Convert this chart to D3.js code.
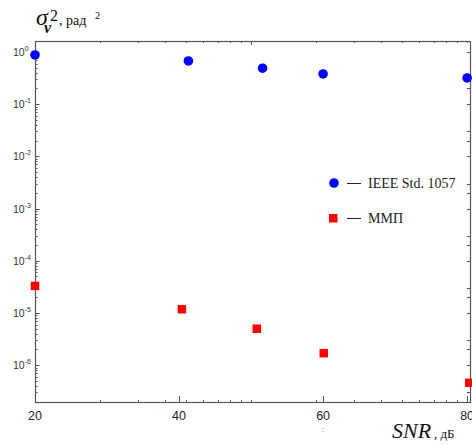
<!DOCTYPE html>
<html>
<head>
<meta charset="utf-8">
<script src="https://cdn.jsdelivr.net/npm/d3@7"></script>
<style>
  body { margin: 0; background: #fff; }
  svg { display: block; }
</style>
</head>
<body>
<svg id="chart" width="472" height="445"></svg>
<script>
// data
var ieeeSnr = [20, 41.3, 51.6, 60, 80];
var ieeeVar = [0.877, 0.672, 0.488, 0.379, 0.318];
var mmpSnr = [20, 40.4, 50.8, 60.1, 80.3];
var mmpVar = [3.3e-5, 1.18e-5, 5.0e-6, 1.7e-6, 4.6e-7];
var xTicks = [20, 40, 60, 80];
var yDecades = [0, -1, -2, -3, -4, -5, -6];
var legendNames = ["IEEE Std. 1057", "ММП"];

var svg = d3.select("#chart");
var LEFT = 35, RIGHT = 470, TOP = 41, BOTTOM = 402;
var AXIS_COLOR = "#555";

var x = d3.scaleLinear().domain([20, 80.4]).range([LEFT, RIGHT]);
var y = d3.scaleLog().domain([Math.pow(10, 0.21), Math.pow(10, -6.705)]).range([TOP, BOTTOM]);
// the top and bottom frame carry log-style minor ticks (plot quirk)
var xLog = d3.scaleLog().domain([1, Math.pow(10, (RIGHT - LEFT) / 216)]).range([LEFT, RIGHT]);

var frame = svg.append("g");

// minor log ticks along y
var yMinor = [];
yDecades.concat([-7]).forEach(function(d){
    for (var k = 2; k <= 9; k++){
        var v = k * Math.pow(10, d);
        if (v < y.domain()[0] && v > y.domain()[1]) yMinor.push(v);
    }
});

frame.selectAll(".yminor").data(yMinor).enter().append("line")
    .attr("x1", LEFT).attr("x2", LEFT + 2.5)
    .attr("y1", function(d){ return Math.round(y(d)) + 0.5; })
    .attr("y2", function(d){ return Math.round(y(d)) + 0.5; })
    .attr("stroke", AXIS_COLOR).attr("stroke-width", 1);

frame.selectAll(".ymajor").data(yDecades).enter().append("line")
    .attr("x1", LEFT).attr("x2", LEFT + 4.5)
    .attr("y1", function(d){ return Math.round(y(Math.pow(10, d))) + 0.5; })
    .attr("y2", function(d){ return Math.round(y(Math.pow(10, d))) + 0.5; })
    .attr("stroke", AXIS_COLOR).attr("stroke-width", 1);

// right side ticks: decades plus 2 and 3 multiples
var yRight = [];
yDecades.concat([-7]).forEach(function(d){
    [1, 2, 3].forEach(function(k){
        var v = k * Math.pow(10, d);
        if (v < y.domain()[0] && v > y.domain()[1]) yRight.push(v);
    });
});
frame.selectAll(".yright").data(yRight).enter().append("line")
    .attr("x1", RIGHT - 3).attr("x2", RIGHT)
    .attr("y1", function(d){ return Math.round(y(d)) + 0.5; })
    .attr("y2", function(d){ return Math.round(y(d)) + 0.5; })
    .attr("stroke", AXIS_COLOR).attr("stroke-width", 1);

// log-style minor ticks on top and bottom
var xMinor = [];
[1, 10, 100].forEach(function(dec){
    for (var k = 1; k <= 9; k++){
        var v = k * dec;
        if (v > 1 && v < xLog.domain()[1]) xMinor.push(v);
    }
});
frame.selectAll(".xtopminor").data(xMinor).enter().append("line")
    .attr("x1", function(d){ return Math.round(xLog(d)) + 0.5; })
    .attr("x2", function(d){ return Math.round(xLog(d)) + 0.5; })
    .attr("y1", TOP).attr("y2", function(d){ return TOP + (d === 10 ? 4 : 2); })
    .attr("stroke", AXIS_COLOR).attr("stroke-width", 1);
frame.selectAll(".xbotminor").data(xMinor).enter().append("line")
    .attr("x1", function(d){ return Math.round(xLog(d)) + 0.5; })
    .attr("x2", function(d){ return Math.round(xLog(d)) + 0.5; })
    .attr("y1", BOTTOM).attr("y2", BOTTOM - 2)
    .attr("stroke", AXIS_COLOR).attr("stroke-width", 1);

// linear major ticks at the bottom
frame.selectAll(".xmajor").data(xTicks).enter().append("line")
    .attr("x1", function(d){ return Math.round(x(d)) + 0.5; })
    .attr("x2", function(d){ return Math.round(x(d)) + 0.5; })
    .attr("y1", BOTTOM).attr("y2", BOTTOM - 6)
    .attr("stroke", AXIS_COLOR).attr("stroke-width", 1);

frame.append("rect")
    .attr("x", LEFT + 0.5).attr("y", TOP + 0.5)
    .attr("width", RIGHT - LEFT).attr("height", BOTTOM - TOP)
    .attr("fill", "none").attr("stroke", AXIS_COLOR).attr("stroke-width", 1.2);

// tick labels
var yLab = svg.selectAll(".ylab").data(yDecades).enter().append("text")
    .attr("x", 13)
    .attr("y", function(d){ return y(Math.pow(10, d)) + 4; })
    .attr("font-family", "Liberation Sans, Arial, sans-serif")
    .attr("font-size", 10.5).attr("fill", "#333");
yLab.append("tspan").text("10");
yLab.append("tspan").attr("dy", -5).attr("font-size", 7).text(function(d){ return d; });

svg.selectAll(".xlab").data(xTicks).enter().append("text")
    .attr("x", function(d){ return x(d); })
    .attr("y", 420)
    .attr("text-anchor", "middle")
    .attr("font-family", "Liberation Sans, Arial, sans-serif")
    .attr("font-size", 12.5).attr("fill", "#222")
    .text(function(d){ return d; });

svg.append("text").attr("x", 322).attr("y", 432)
    .attr("font-family", "Liberation Sans, Arial, sans-serif")
    .attr("font-size", 7).attr("fill", "#333").text(":");

// data marks
svg.selectAll(".ieee").data(ieeeSnr).enter().append("circle")
    .attr("cx", function(d){ return x(d); })
    .attr("cy", function(d, i){ return y(ieeeVar[i]); })
    .attr("r", 4.8).attr("fill", "#0000ff");

var SQ = 8.5;
svg.selectAll(".mmp").data(mmpSnr).enter().append("rect")
    .attr("x", function(d){ return x(d) - SQ / 2; })
    .attr("y", function(d, i){ return y(mmpVar[i]) - SQ / 2; })
    .attr("width", SQ).attr("height", SQ).attr("fill", "#ff0000");

// legend
var serif = "Liberation Serif, Times New Roman, serif";
svg.append("circle").attr("cx", 334).attr("cy", 183).attr("r", 4.8).attr("fill", "#0000ff");
svg.append("rect").attr("x", 329).attr("y", 214).attr("width", SQ).attr("height", SQ).attr("fill", "#ff0000");
[188, 223].forEach(function(yy, i){
    svg.append("line").attr("x1", 347).attr("x2", 361)
        .attr("y1", yy - 5 + 0.5).attr("y2", yy - 5 + 0.5)
        .attr("stroke", "#222").attr("stroke-width", 1);
    svg.append("text").attr("x", 368).attr("y", yy)
        .attr("font-family", serif).attr("font-size", 14).attr("fill", "#222")
        .text(legendNames[i]);
});

// axis titles
svg.append("text").attr("x", 36).attr("y", 25)
    .attr("font-family", serif).attr("font-style", "italic")
    .attr("font-size", 24).attr("fill", "#111").text("σ");
svg.append("text").attr("x", 50).attr("y", 21)
    .attr("font-family", serif).attr("font-size", 16).attr("fill", "#111").text("2");
svg.append("text").attr("x", 44).attr("y", 33)
    .attr("font-family", serif).attr("font-style", "italic").attr("font-weight", "bold")
    .attr("font-size", 16).attr("fill", "#111").text("ν");
svg.append("text").attr("x", 59).attr("y", 25)
    .attr("font-family", serif).attr("font-size", 14).attr("fill", "#111").text(", рад");
svg.append("text").attr("x", 95).attr("y", 19)
    .attr("font-family", serif).attr("font-size", 10.5).attr("fill", "#111").text("2");

svg.append("text").attr("x", 392).attr("y", 438)
    .attr("font-family", serif).attr("font-style", "italic")
    .attr("font-size", 22).attr("fill", "#111").text("SNR");
svg.append("text").attr("x", 434).attr("y", 438)
    .attr("font-family", serif).attr("font-size", 13).attr("fill", "#111").text(", дБ");
</script>
</body>
</html>
